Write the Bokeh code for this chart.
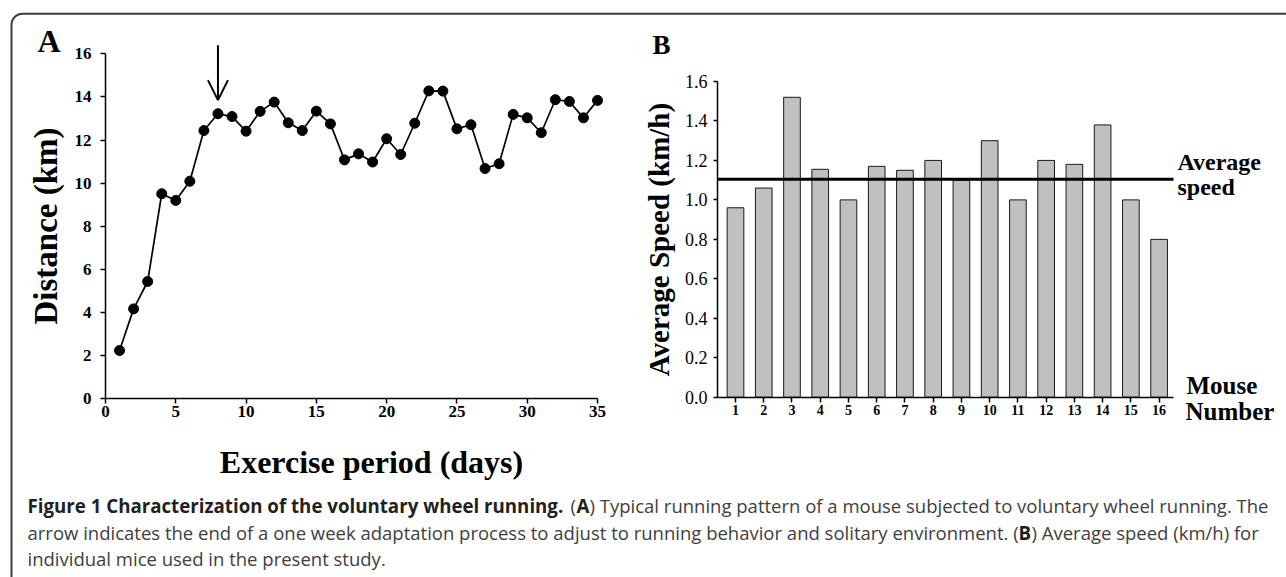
import numpy as np
from bokeh.plotting import figure
from bokeh.models import (Range1d, FixedTicker, Label, Arrow, OpenHead, LinearAxis,
                          ColumnDataSource, NumeralTickFormatter)
from bokeh.embed import file_html
from bokeh.resources import INLINE
from bokeh.core.properties import value

# ---------------- data ----------------
days = list(range(1, 36))
distance_km = [2.24, 4.17, 5.44, 9.51, 9.20, 10.09, 12.44, 13.22, 13.09, 12.41,
               13.33, 13.76, 12.80, 12.44, 13.34, 12.75, 11.08, 11.36, 10.98, 12.06,
               11.33, 12.78, 14.28, 14.27, 12.52, 12.71, 10.68, 10.90, 13.19, 13.03,
               12.34, 13.87, 13.79, 13.03, 13.84]
arrow_day = 8
arrow_from_km = 16.4
arrow_to_km = 13.85
x_ticks_a = [0, 5, 10, 15, 20, 25, 30, 35]
y_ticks_a = [0, 2, 4, 6, 8, 10, 12, 14, 16]

mice = list(range(1, 17))
speed_kmh = [0.96, 1.06, 1.52, 1.155, 1.00, 1.17, 1.15, 1.20,
             1.10, 1.30, 1.00, 1.20, 1.18, 1.38, 1.00, 0.80]
average_speed = 1.105
y_ticks_b = [0.0, 0.2, 0.4, 0.6, 0.8, 1.0, 1.2, 1.4, 1.6]

SERIF = "Liberation Serif"
SANS = "Open Sans"

# ---------------- page geometry (pixels) ----------------
W, H = 1286, 577
# panel A: pixel positions of x=0, x=35, y=0, y=16
A_X0, A_X35, A_Y0, A_Y16 = 105.0, 597.0, 398.3, 53.3
# panel B: pixel positions of bar 1, bar 16, y=0, y=1.6, axis ends
B_X1, B_X16, B_Y0, B_Y16, B_LEFT, B_RIGHT = 735.0, 1158.6, 396.7, 81.0, 717.0, 1173.0
BASE_SHIFT = 0.4   # baseline correction, in em

asx = (A_X35 - A_X0) / 35.0
asy = (A_Y0 - A_Y16) / 16.0
bsx = (B_X16 - B_X1) / 15.0
bsy = (B_Y0 - B_Y16) / 1.6
b_lo = 1 + (B_LEFT - B_X1) / bsx
b_hi = 16 + (B_RIGHT - B_X16) / bsx

p = figure(width=W, height=H, title=None,
           x_range=Range1d(-A_X0 / asx, (W - A_X0) / asx),
           y_range=Range1d(-(H - A_Y0) / asy, A_Y0 / asy),
           x_axis_type=None, y_axis_type=None, min_border=0,
           output_backend="svg", toolbar_location=None)
p.extra_x_ranges = {"bx": Range1d(1 - B_X1 / bsx, 1 + (W - B_X1) / bsx),
                    "px": Range1d(0, W)}
p.extra_y_ranges = {"by": Range1d(-(H - B_Y0) / bsy, B_Y0 / bsy),
                    "py": Range1d(H, 0)}
p.outline_line_color = None
p.grid.visible = False
p.background_fill_color = "white"
p.border_fill_color = "white"


def style_axis(ax, label_size, label_style, standoff, tick_out):
    ax.axis_line_color = "black"
    ax.axis_line_width = 1.5
    ax.major_tick_line_color = "black"
    ax.major_tick_line_width = 1.5
    ax.major_tick_in = 0
    ax.major_tick_out = tick_out
    ax.minor_tick_line_color = None
    ax.major_label_text_font = SERIF
    ax.major_label_text_font_style = label_style
    ax.major_label_text_font_size = label_size
    ax.major_label_text_color = "black"
    ax.major_label_standoff = standoff
    ax.axis_label_text_font = SERIF
    ax.axis_label_text_font_style = "bold"
    ax.axis_label_text_color = "black"


# ---------------- outer frame line (rounded top-left corner) ----------------
r = 11.0
cx, cy = 11.0 + r, 13.3 + r
t = np.linspace(np.pi, 1.5 * np.pi, 24)
p.line(x=[11.0] + list(cx + r * np.cos(t)) + [W],
       y=[H] + list(cy + r * np.sin(t)) + [13.3],
       x_range_name="px", y_range_name="py", line_color="#3a3a3a", line_width=2)

# ---------------- panel A ----------------
p.line(days, distance_km, line_color="black", line_width=1.7)
p.scatter(days, distance_km, size=10, fill_color="black", line_color="black")

xa = LinearAxis(fixed_location=0, bounds=(0, 35), ticker=FixedTicker(ticks=x_ticks_a))
style_axis(xa, "17px", "bold", 2, 5)
p.add_layout(xa, "below")

ya = LinearAxis(fixed_location=0, bounds=(0, 16), ticker=FixedTicker(ticks=y_ticks_a))
style_axis(ya, "17px", "bold", 9, 5)
ya.axis_label = "Distance (km)"
ya.axis_label_text_font_size = "33px"
ya.axis_label_standoff = 8
p.add_layout(ya, "left")

p.add_layout(Arrow(end=OpenHead(size=20, line_width=2, line_color="black"),
                   x_start=arrow_day, y_start=arrow_from_km,
                   x_end=arrow_day, y_end=arrow_to_km,
                   line_width=2, line_color="black"))

# ---------------- panel B ----------------
p.vbar(x=mice, top=speed_kmh, width=0.59, fill_color="#c0c0c0",
       line_color="#1a1a1a", line_width=1, x_range_name="bx", y_range_name="by")
p.segment(x0=[b_lo], x1=[b_hi], y0=[average_speed], y1=[average_speed],
          line_color="black", line_width=3, x_range_name="bx", y_range_name="by")

xb = LinearAxis(x_range_name="bx", y_range_name="by", fixed_location=0,
                bounds=(b_lo, b_hi), ticker=FixedTicker(ticks=mice))
style_axis(xb, "14px", "bold", 3, 5)
p.add_layout(xb, "below")

yb = LinearAxis(x_range_name="bx", y_range_name="by", fixed_location=b_lo,
                bounds=(0, 1.6), ticker=FixedTicker(ticks=y_ticks_b),
                formatter=NumeralTickFormatter(format="0.0"))
style_axis(yb, "18px", "normal", 6, 4)
yb.axis_label = "Average Speed (km/h)"
yb.axis_label_text_font_size = "29px"
yb.axis_label_standoff = 7
p.add_layout(yb, "left")

# ---------------- free texts (pixel coordinates, alphabetic baselines) ----------------
for txt, lx, ly, sz, al in [("A", 37, 53, 32, "left"),
                            ("Exercise period (days)", 371, 474, 32, "center"),
                            ("B", 652, 55, 27, "left"),
                            ("Average", 1177, 171.5, 24, "left"),
                            ("speed", 1177, 196.5, 24, "left"),
                            ("Mouse", 1186, 395, 25, "left"),
                            ("Number", 1185, 421, 25, "left")]:
    p.add_layout(Label(x=lx, y=ly - BASE_SHIFT * sz, x_range_name="px", y_range_name="py",
                       text=txt, text_font=SERIF, text_font_style="bold",
                       text_font_size=f"{sz}px", text_align=al,
                       text_baseline="alphabetic", text_color="black"))

# ---------------- caption ----------------
CAP = 18.5
c1, c2, c3 = 512 - BASE_SHIFT * CAP, 539 - BASE_SHIFT * CAP, 565 - BASE_SHIFT * CAP
bold_src = ColumnDataSource(dict(
    x=[27, 576, 1018],
    y=[c1, c1, c2],
    text=["Figure 1 Characterization of the voluntary wheel running.", "A", "B"]))
reg_src = ColumnDataSource(dict(
    x=[570, 589, 27, 1031, 27],
    y=[c1, c1, c2, c2, c3],
    text=["(",
          ") Typical running pattern of a mouse subjected to voluntary wheel running. The",
          "arrow indicates the end of a one week adaptation process to adjust to running behavior and solitary environment. (",
          ") Average speed (km/h) for",
          "individual mice used in the present study."]))
p.text(x="x", y="y", text="text", source=bold_src, x_range_name="px", y_range_name="py",
       text_font=value(SANS), text_font_style="bold", text_font_size="18.7px",
       text_color="#231f20", text_baseline="alphabetic", text_align="left")
p.text(x="x", y="y", text="text", source=reg_src, x_range_name="px", y_range_name="py",
       text_font=value(SANS), text_font_style="normal", text_font_size=f"{CAP}px",
       text_color="#404040", text_baseline="alphabetic", text_align="left")

open("out.html", "w").write(file_html(p, INLINE))
